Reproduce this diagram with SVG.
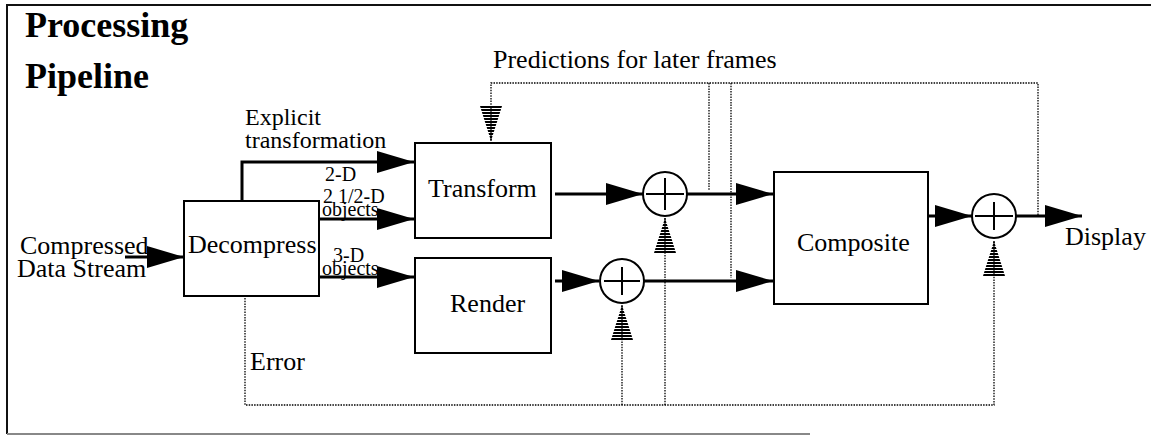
<svg xmlns="http://www.w3.org/2000/svg" width="1151" height="436" viewBox="0 0 1151 436" font-family="'Liberation Serif', 'DejaVu Serif', 'Times New Roman', serif">
  <style>
    text { font-family: "Liberation Serif", "DejaVu Serif", "Times New Roman", serif; fill: #000; }
    .title { font-size: 36px; font-weight: bold; }
    .lbl { font-size: 26px; }
    .mid { font-size: 24px; }
    .sm { font-size: 20px; }
    .box { fill: #fff; stroke: #000; stroke-width: 2; }
    .sum { fill: #fff; stroke: #000; stroke-width: 2; }
    .cross { stroke: #000; stroke-width: 2; }
    .flow { fill: none; stroke: #000; stroke-width: 3; marker-end: url(#arrow); }
    .feed { fill: none; stroke: #000; stroke-width: 1.3; stroke-dasharray: 1.5 1.2; }
    .feed-in { marker-end: url(#harrow); }
    .frame { fill: none; stroke: #111; stroke-width: 2; }
  </style>
  <defs>
    <!-- solid black arrowhead for data flow -->
    <marker id="arrow" markerUnits="userSpaceOnUse" markerWidth="40" markerHeight="24" refX="37" refY="11" orient="auto" overflow="visible">
      <path d="M0,0 L37,11 L0,22 Z" fill="#000"/>
    </marker>
    <!-- stripes used inside the correction arrowheads (vertical in marker space = horizontal on page) -->
    <pattern id="hatch" patternUnits="userSpaceOnUse" width="3" height="4">
      <rect x="0" y="0" width="2" height="4" fill="#000"/>
      <rect x="2" y="0" width="1" height="4" fill="#fff"/>
    </pattern>
    <!-- striped arrowhead for prediction / error paths -->
    <marker id="harrow" markerUnits="userSpaceOnUse" markerWidth="40" markerHeight="24" refX="35" refY="11" orient="auto" overflow="visible">
      <path d="M0,0 L35,11 L0,22 Z" fill="url(#hatch)"/>
      <line x1="0" y1="11" x2="35" y2="11" stroke="#000" stroke-width="1.2"/>
    </marker>
  </defs>

  <rect x="0" y="0" width="1151" height="436" fill="#fff"/>

  <!-- outer frame -->
  <g id="frame">
    <path class="frame" d="M1151,5 H7 V434"/>
    <path d="M7,434 H810" fill="none" stroke="#888" stroke-width="2"/>
  </g>

  <g id="title">
    <text class="title" x="25" y="37">Processing</text>
    <text class="title" x="25" y="88">Pipeline</text>
  </g>

  <!-- connectors -->
  <g id="connectors">
    <!-- solid data flow -->
    <path class="flow" d="M125,257 H184"/>
    <path class="flow" d="M242,201 V162 H414"/>
    <path class="flow" d="M319,219 H414"/>
    <path class="flow" d="M319,277 H414"/>
    <path class="flow" d="M555,194 H643"/>
    <path class="flow" d="M687,194 H773"/>
    <path class="flow" d="M555,281 H599"/>
    <path class="flow" d="M644,281 H773"/>
    <path class="flow" d="M928,216 H972"/>
    <path class="flow" d="M1016,216 H1082"/>

    <!-- predictions fed back to later frames -->
    <path class="feed feed-in" d="M1038,215 V83 H491 V141"/>
    <path class="feed" d="M709,83 V190"/>
    <path class="feed" d="M731,83 V278"/>

    <!-- error path into the adders -->
    <path class="feed feed-in" d="M245,298 V405 H994 V241"/>
    <path class="feed feed-in" d="M665,405 V218"/>
    <path class="feed feed-in" d="M622,405 V305"/>
  </g>

  <!-- edge labels -->
  <g id="labels">
    <text class="mid" x="245" y="125">Explicit</text>
    <text class="mid" x="245" y="148">transformation</text>
    <text class="sm" x="325" y="181">2-D</text>
    <text class="sm" x="323" y="203">2 1/2-D</text>
    <text class="sm" x="322" y="216">objects</text>
    <text class="sm" x="333" y="262">3-D</text>
    <text class="sm" x="322" y="275">objects</text>
    <text class="lbl" x="20" y="254">Compressed</text>
    <text class="lbl" x="17" y="277">Data Stream</text>
    <text class="lbl" x="1065" y="245">Display</text>
    <text class="lbl" x="250" y="370">Error</text>
    <text class="lbl" x="493" y="68">Predictions for later frames</text>
  </g>

  <g id="decompress">
    <rect class="box" x="184" y="201" width="135" height="95"/>
    <text class="lbl" x="188" y="253">Decompress</text>
  </g>

  <g id="transform">
    <rect class="box" x="415" y="143" width="136" height="95"/>
    <text class="lbl" x="428" y="197">Transform</text>
  </g>

  <g id="render">
    <rect class="box" x="415" y="258" width="136" height="95"/>
    <text class="lbl" x="450" y="312">Render</text>
  </g>

  <g id="composite">
    <rect class="box" x="774" y="172" width="154" height="132"/>
    <text class="lbl" x="797" y="251">Composite</text>
  </g>

  <g id="sum-transform">
    <circle class="sum" cx="665" cy="194" r="22"/>
    <path class="cross" d="M646,194 H684 M665,178 V210"/>
  </g>

  <g id="sum-render">
    <circle class="sum" cx="622" cy="281" r="22"/>
    <path class="cross" d="M604,281 H640 M622,267 V295"/>
  </g>

  <g id="sum-display">
    <circle class="sum" cx="994" cy="216" r="22"/>
    <path class="cross" d="M975,216 H1013 M994,202 V230"/>
  </g>
</svg>
